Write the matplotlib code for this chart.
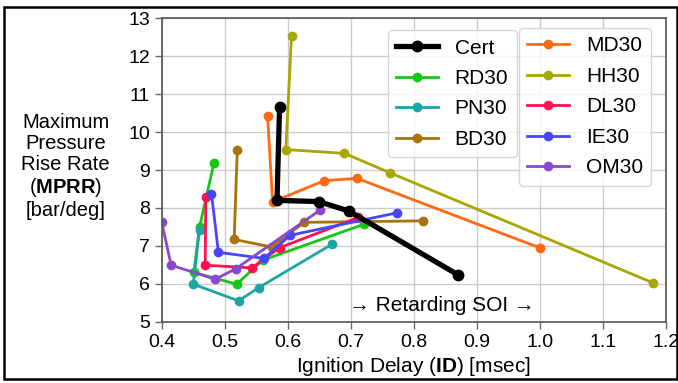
"""MPRR against ignition delay for the certification fuel and the 30% blends."""

import matplotlib

matplotlib.use("Agg")

import matplotlib.pyplot as plt
from matplotlib.patches import Rectangle

plt.rcParams["font.family"] = ["Liberation Sans", "DejaVu Sans"]
plt.rcParams["mathtext.fontset"] = "custom"
plt.rcParams["mathtext.rm"] = "Liberation Sans"
plt.rcParams["mathtext.bf"] = "Liberation Sans:bold"

# ignition delay [msec] and MPRR [bar/deg] per fuel, in SOI sweep order
cert_id = [0.587, 0.583, 0.649, 0.697, 0.871]
cert_mprr = [10.65, 8.20, 8.17, 7.92, 6.23]

rd30_id = [0.483, 0.460, 0.451, 0.519, 0.560, 0.721]
rd30_mprr = [9.19, 7.50, 6.30, 5.99, 6.62, 7.57]

pn30_id = [0.460, 0.450, 0.522, 0.554, 0.670]
pn30_mprr = [7.43, 5.99, 5.55, 5.90, 7.04]

bd30_id = [0.520, 0.515, 0.575, 0.626, 0.814]
bd30_mprr = [9.54, 7.17, 6.97, 7.62, 7.66]

md30_id = [0.568, 0.576, 0.658, 0.710, 1.000]
md30_mprr = [10.43, 8.16, 8.72, 8.78, 6.95]

hh30_id = [0.606, 0.597, 0.690, 0.762, 1.179]
hh30_mprr = [12.54, 9.54, 9.44, 8.93, 6.03]

dl30_id = [0.470, 0.469, 0.543, 0.587, 0.712]
dl30_mprr = [8.28, 6.49, 6.42, 6.95, 7.75]

ie30_id = [0.479, 0.490, 0.562, 0.604, 0.773]
ie30_mprr = [8.38, 6.83, 6.67, 7.28, 7.87]

om30_id = [0.400, 0.415, 0.485, 0.518, 0.651]
om30_mprr = [7.63, 6.49, 6.12, 6.40, 7.94]

X_TICKS = [0.4, 0.5, 0.6, 0.7, 0.8, 0.9, 1.0, 1.1, 1.2]
Y_TICKS = [5, 6, 7, 8, 9, 10, 11, 12, 13]

BLENDS_LEFT = [
    ("RD30", rd30_id, rd30_mprr, "#12c812"),
    ("PN30", pn30_id, pn30_mprr, "#1ba5a5"),
    ("BD30", bd30_id, bd30_mprr, "#a8720c"),
]
BLENDS_RIGHT = [
    ("MD30", md30_id, md30_mprr, "#ff6a10"),
    ("HH30", hh30_id, hh30_mprr, "#a8a600"),
    ("DL30", dl30_id, dl30_mprr, "#ff1050"),
    ("IE30", ie30_id, ie30_mprr, "#4646ff"),
    ("OM30", om30_id, om30_mprr, "#8a48cc"),
]

figure = plt.figure(figsize=(6.78, 3.83), dpi=100)
axes = figure.add_axes([0.2385, 0.160, 0.7435, 0.792])

left_handles = []
(cert_line,) = axes.plot(
    cert_id, cert_mprr, color="black", linewidth=3.8, marker="o", markersize=7.5,
    label="Cert", zorder=3,
)
left_handles.append(cert_line)
for name, ids, mprr, colour in BLENDS_LEFT:
    (line,) = axes.plot(ids, mprr, color=colour, linewidth=2, marker="o",
                        markersize=6, label=name, zorder=2)
    left_handles.append(line)

right_handles = []
for name, ids, mprr, colour in BLENDS_RIGHT:
    (line,) = axes.plot(ids, mprr, color=colour, linewidth=2, marker="o",
                        markersize=6, label=name, zorder=2)
    right_handles.append(line)

axes.set_xlim(0.4, 1.2)
axes.set_ylim(5, 13)
axes.set_xticks(X_TICKS)
axes.set_xticklabels([f"{t:.1f}" for t in X_TICKS])
axes.set_yticks(Y_TICKS)
axes.tick_params(labelsize=14, color="#666666", length=5, width=1)
axes.grid(color="#cccccc", linewidth=1)
axes.set_axisbelow(True)
for spine in axes.spines.values():
    spine.set_color("#555555")
    spine.set_linewidth(1.2)

axes.set_xlabel(r"Ignition Delay ($\mathbf{ID}$) [msec]", fontsize=15, labelpad=3)
figure.text(
    0.097, 0.565,
    "Maximum\nPressure\nRise Rate\n" r"($\mathbf{MPRR}$)" "\n[bar/deg]",
    ha="center", va="center", multialignment="center", fontsize=14.5,
    linespacing=1.12,
)
axes.text(0.845, 5.44, "\u2192 Retarding SOI \u2192", ha="center", va="center",
          fontsize=15)

legend_left = axes.legend(
    handles=left_handles, loc="upper left", bbox_to_anchor=(0.449, 0.961),
    borderaxespad=0, fontsize=15, labelspacing=0.55, handlelength=2.0,
)
axes.add_artist(legend_left)
axes.legend(
    handles=right_handles, loc="upper left", bbox_to_anchor=(0.709, 0.968),
    borderaxespad=0, fontsize=15, labelspacing=0.55, handlelength=2.0,
)

figure.patches.append(
    Rectangle((0.0059, 0.0104), 0.9926, 0.9713, transform=figure.transFigure,
              fill=False, edgecolor="black", linewidth=1.8)
)

figure.savefig("out.png", dpi=100)
